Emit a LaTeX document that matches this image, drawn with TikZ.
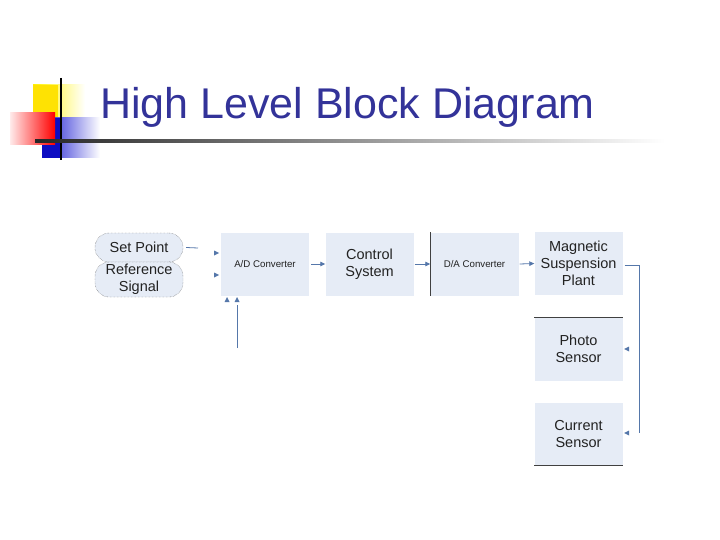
\documentclass[tikz,border=0pt]{standalone}
\usepackage{fontspec}
\setmainfont{Liberation Sans}
\usetikzlibrary{arrows.meta,shadings}
\definecolor{titleblue}{HTML}{333399}
\definecolor{boxfill}{HTML}{E6ECF6}
\definecolor{linec}{HTML}{5577AA}
\definecolor{txt}{HTML}{222222}
\tikzset{
  blk/.style={fill=boxfill, draw=none, minimum width=88pt, minimum height=63pt, align=center, text=txt, font=\fontsize{14.5}{16.8}\selectfont, inner sep=0pt},
  oval/.style={fill=boxfill, draw=black!70, densely dotted, rounded corners=14pt, minimum width=88pt, align=center, text=txt, font=\fontsize{14.5}{16.8}\selectfont, inner sep=0pt},
  conn/.style={draw=linec, line width=0.8pt},
  tip/.style={fill=linec, draw=none},
  edgeline/.style={draw=black!75, line width=0.9pt}
}
\begin{document}
\begin{tikzpicture}[x=1pt,y=-1pt]
\useasboundingbox (0,0) rectangle (720,540);
% decoration
\shade[left color=yellow!90!orange, right color=white] (33,85) rectangle (85,118);
\fill[yellow!85!orange] (33,85) rectangle (58,118);
\shade[left color=blue!80!black!90, right color=white] (42,118) rectangle (100,158);
\fill[blue!75!black!95] (42,118) rectangle (62,158);
\shade[left color=red!8, right color=red] (10,113) rectangle (55,145);
\draw[line width=2pt, black] (61,78) -- (61,160);
\shade[left color=black!85, right color=white] (35,140) rectangle (665,142.5);
% title
\node[anchor=base west, text=titleblue, font=\fontsize{43}{48}\selectfont, inner sep=0pt] (title) at (100,119) {High Level Block Diagram};
% ovals
\node[oval, minimum height=29pt] (sp) at (139,247.5) {Set Point};
\node[oval, minimum height=35pt] (ref) at (139,279.5) {Reference\\Signal};
% blocks
\node[blk, font=\fontsize{9.7}{11}\selectfont] (ad) at (265,264) {A/D Converter};
\node[blk] (cs) at (369.5,264) {Control\\System};
\node[blk, font=\fontsize{9.7}{11}\selectfont] (da) at (474.5,264) {D/A Converter};
\node[blk] (msp) at (578.5,263.5) {Magnetic\\Suspension\\Plant};
\node[blk] (ps) at (578.5,349) {Photo\\Sensor};
\node[blk] (cur) at (578.5,434) {Current\\Sensor};
% dark edges
\draw[edgeline] (da.north west) -- (da.south west);
\draw[edgeline] (ps.north west) -- (ps.north east);
\draw[edgeline] (cur.south west) -- (cur.south east);
% connectors
\coordinate (spend) at (198,248);
\draw[conn] (sp.east) ++(3,0) -- (spend);
\draw[conn, -{Triangle[length=5pt,width=4.5pt]}] (ad.east) ++(2,0) -- (cs.west);
\draw[conn, -{Triangle[length=5pt,width=4.5pt]}] (cs.east) ++(1,0) -- (da.west);
\draw[conn, -{Triangle[length=5pt,width=4.5pt]}] (da.east) ++(1,0) -- (msp.west);
\coordinate (fb1) at (639,265);
\coordinate (fb2) at (639,433);
\draw[conn] (msp.east) ++(2,1.5) -- (fb1) -- (fb2);
% loose arrowheads
\fill[tip] (214,250.5) -- (219,253) -- (214,255.5) -- cycle;
\fill[tip] (214,272.5) -- (219,275) -- (214,277.5) -- cycle;
\fill[tip] (224.5,302) -- (227,297) -- (229.5,302) -- cycle;
\fill[tip] (234.5,302) -- (237,297) -- (239.5,302) -- cycle;
\coordinate (vb) at (237,348);
\coordinate (vt) at (237,305);
\draw[conn] (vb) -- (vt);
\fill[tip] (629,346.5) -- (624,349) -- (629,351.5) -- cycle;
\fill[tip] (629,430.5) -- (624,433) -- (629,435.5) -- cycle;
\end{tikzpicture}
\end{document}
